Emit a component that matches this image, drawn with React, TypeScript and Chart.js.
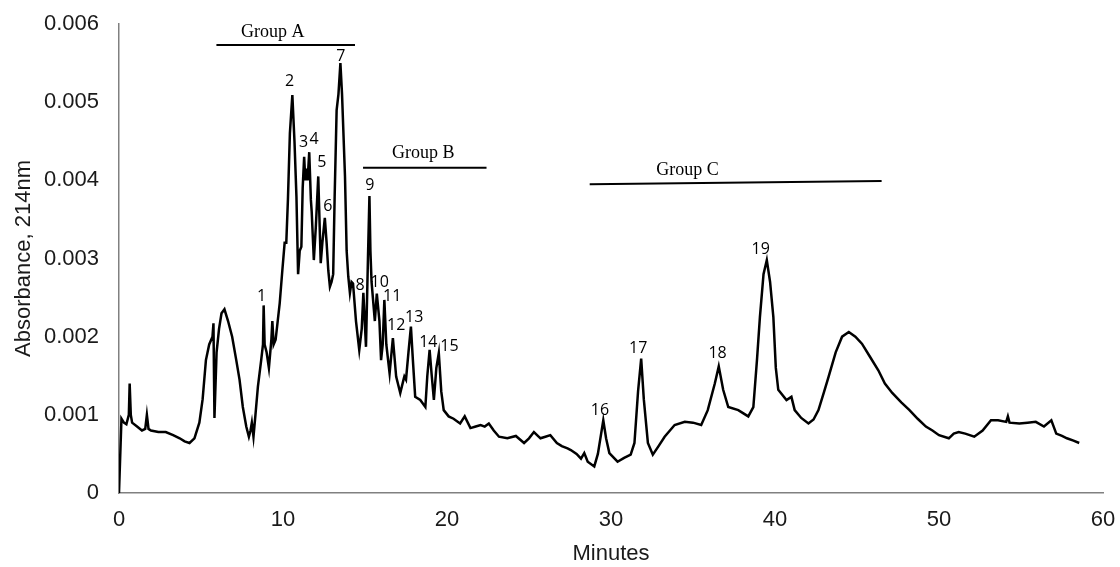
import React, { useEffect, useRef } from "react";
import { Chart, registerables } from "chart.js";

Chart.register(...registerables);

// Retention time (minutes)
const times: number[] = [
  0.0, 0.15, 0.3, 0.45, 0.6, 0.65, 0.72, 0.8, 1.1, 1.4, 1.6, 1.7, 1.8, 1.95, 2.4, 2.85, 3.3, 3.7, 4.0, 4.3,
  4.6, 4.9, 5.1, 5.3, 5.5, 5.7, 5.76, 5.82, 5.95, 6.1, 6.25, 6.43, 6.65, 6.9, 7.15, 7.35, 7.55, 7.76, 7.92, 8.02,
  8.1, 8.2, 8.32, 8.47, 8.67, 8.78, 8.82, 8.88, 9.0, 9.14, 9.29, 9.35, 9.43, 9.55, 9.8, 9.96, 10.1, 10.2, 10.3, 10.42,
  10.57, 10.7, 10.82, 10.92, 11.02, 11.12, 11.2, 11.29, 11.36, 11.43, 11.5, 11.6, 11.7, 11.75, 11.88, 12.0, 12.15, 12.3, 12.4, 12.55,
  12.66, 12.76, 12.86, 12.96, 13.06, 13.15, 13.27, 13.38, 13.5, 13.6, 13.78, 13.88, 13.98, 14.08, 14.18, 14.27, 14.45, 14.65, 14.8, 14.9,
  15.06, 15.18, 15.27, 15.33, 15.4, 15.6, 15.72, 15.88, 15.98, 16.08, 16.18, 16.3, 16.5, 16.7, 16.9, 17.15, 17.35, 17.4, 17.5, 17.65,
  17.8, 17.92, 18.06, 18.37, 18.68, 18.8, 18.94, 19.07, 19.2, 19.35, 19.5, 19.65, 19.8, 20.1, 20.4, 20.8, 21.08, 21.43, 21.75, 22.05,
  22.3, 22.55, 22.85, 23.17, 23.68, 24.2, 24.7, 25.0, 25.3, 25.7, 26.0, 26.3, 26.7, 27.0, 27.35, 27.55, 27.9, 28.17, 28.37, 28.58,
  28.98, 29.2, 29.53, 29.7, 29.9, 30.4, 30.8, 31.2, 31.43, 31.65, 31.84, 32.0, 32.25, 32.55, 32.9, 33.27, 33.88, 34.5, 35.0, 35.5,
  35.9, 36.33, 36.57, 36.84, 37.15, 37.76, 38.37, 38.68, 38.9, 39.08, 39.3, 39.5, 39.7, 39.9, 40.05, 40.2, 40.7, 41.0, 41.2, 41.6,
  42.04, 42.35, 42.65, 43.0, 43.27, 43.7, 44.09, 44.5, 44.9, 45.3, 45.8, 46.3, 46.7, 47.15, 47.7, 48.2, 48.7, 49.2, 49.6, 50.0,
  50.6, 50.9, 51.2, 51.6, 52.15, 52.66, 53.17, 53.6, 54.1, 54.2, 54.3, 54.9, 55.4, 55.9, 56.4, 56.85, 57.15, 57.5, 57.8, 58.2,
  58.55,
];

// Absorbance at 214 nm
const absorbance: number[] = [
  0, 0.00095, 0.0009, 0.00088, 0.001, 0.0014, 0.001, 0.0009, 0.00085, 0.0008, 0.00082, 0.001, 0.00082, 0.0008, 0.00078, 0.00078, 0.00074, 0.0007, 0.00066, 0.00064,
  0.0007, 0.0009, 0.0012, 0.0017, 0.0019, 0.002, 0.00217, 0.00096, 0.0018, 0.0021, 0.0023, 0.00235, 0.0022, 0.002, 0.0017, 0.00145, 0.0011, 0.00085, 0.00072, 0.0008,
  0.0009, 0.00072, 0.001, 0.00136, 0.0017, 0.0019, 0.0024, 0.0019, 0.0018, 0.0016, 0.00196, 0.0022, 0.0019, 0.00196, 0.00243, 0.00285, 0.0032, 0.0032, 0.00375, 0.0046,
  0.00509, 0.0045, 0.00379, 0.0028, 0.0031, 0.00315, 0.0039, 0.0043, 0.004, 0.00415, 0.004, 0.00436, 0.00375, 0.0036, 0.00298, 0.0034, 0.00405, 0.00294, 0.0032, 0.00352,
  0.0032, 0.00285, 0.00264, 0.0027, 0.0028, 0.0038, 0.0049, 0.0051, 0.0055, 0.0051, 0.00405, 0.0031, 0.00277, 0.00256, 0.0027, 0.00268, 0.0022, 0.00183, 0.0021, 0.00256,
  0.00187, 0.003, 0.0038, 0.0031, 0.0027, 0.0022, 0.00255, 0.0022, 0.0017, 0.0019, 0.00247, 0.0019, 0.00153, 0.00198, 0.00149, 0.00128, 0.00145, 0.00149, 0.00145, 0.0018,
  0.00213, 0.0017, 0.00123, 0.00119, 0.0011, 0.0015, 0.00183, 0.0015, 0.00119, 0.0016, 0.00179, 0.0013, 0.00106, 0.00098, 0.00095, 0.00089, 0.00098, 0.00083, 0.00085, 0.00087,
  0.00085, 0.00089, 0.0008, 0.00072, 0.0007, 0.00073, 0.00064, 0.0007, 0.00078, 0.0007, 0.00072, 0.00074, 0.00064, 0.0006, 0.00057, 0.00055, 0.0005, 0.00044, 0.00051, 0.0004,
  0.00034, 0.0005, 0.00093, 0.0007, 0.00051, 0.0004, 0.00045, 0.00049, 0.00064, 0.0013, 0.00172, 0.0012, 0.00064, 0.00049, 0.0006, 0.00072, 0.00087, 0.00091, 0.0009, 0.00087,
  0.00106, 0.0014, 0.00162, 0.00132, 0.0011, 0.00106, 0.00098, 0.0011, 0.0017, 0.00225, 0.0028, 0.00298, 0.0027, 0.00225, 0.0016, 0.00132, 0.00119, 0.00123, 0.00106, 0.00096,
  0.00089, 0.00094, 0.00106, 0.0013, 0.00149, 0.0018, 0.002, 0.00206, 0.002, 0.00191, 0.00174, 0.00157, 0.0014, 0.00128, 0.00116, 0.00106, 0.00095, 0.00085, 0.0008, 0.00074,
  0.0007, 0.00076, 0.00078, 0.00076, 0.00072, 0.0008, 0.00093, 0.00093, 0.00091, 0.00098, 0.0009, 0.00089, 0.0009, 0.00091, 0.00085, 0.00093, 0.00076, 0.00073, 0.0007, 0.00067,
  0.00064,
];

// Peak numbers and their label anchor (minutes, absorbance)
const peakLabels: string[] = ["1", "2", "3", "4", "5", "6", "7", "8", "9", "10", "11", "12", "13", "14", "15", "16", "17", "18", "19"];
const peakLabelX: number[] = [8.7, 10.4, 11.26, 11.9, 12.37, 12.74, 13.53, 14.7, 15.3, 15.9, 16.66, 16.9, 18.0, 18.86, 20.15, 29.33, 31.66, 36.5, 39.13];
const peakLabelY: number[] = [0.00251, 0.00526, 0.00448, 0.00452, 0.00423, 0.00367, 0.00558, 0.00266, 0.00394, 0.0027, 0.00252, 0.00214, 0.00224, 0.00193, 0.00187, 0.00106, 0.00185, 0.00178, 0.00311];

// Peak groups: name, start/end minutes, bar level, label position
const groupNames: string[] = ["Group A", "Group B", "Group C"];
const groupStart: number[] = [5.94, 14.88, 28.7];
const groupEnd: number[] = [14.39, 22.41, 46.5];
const groupLevelStart: number[] = [0.00573, 0.00416, 0.00395];
const groupLevelEnd: number[] = [0.00573, 0.00416, 0.00399];
const groupLabelX: number[] = [9.37, 18.55, 34.66];
const groupLabelY: number[] = [0.0059, 0.00435, 0.00413];

const xTicks: number[] = [0, 10, 20, 30, 40, 50, 60];
const yTicks: number[] = [0, 0.001, 0.002, 0.003, 0.004, 0.005, 0.006];

const annotationPlugin = {
  id: "peakAnnotations",
  afterDatasetsDraw(chart: any) {
    const ctx = chart.ctx;
    const xs = chart.scales.x;
    const ys = chart.scales.y;
    ctx.save();
    ctx.strokeStyle = "#000";
    ctx.lineWidth = 2;
    for (let i = 0; i < groupNames.length; i++) {
      ctx.beginPath();
      ctx.moveTo(xs.getPixelForValue(groupStart[i]), ys.getPixelForValue(groupLevelStart[i]));
      ctx.lineTo(xs.getPixelForValue(groupEnd[i]), ys.getPixelForValue(groupLevelEnd[i]));
      ctx.stroke();
    }
    ctx.fillStyle = "#000";
    ctx.textAlign = "center";
    ctx.textBaseline = "middle";
    ctx.font = '18px "Liberation Serif", "Times New Roman", serif';
    for (let i = 0; i < groupNames.length; i++) {
      ctx.fillText(groupNames[i], xs.getPixelForValue(groupLabelX[i]), ys.getPixelForValue(groupLabelY[i]));
    }
    ctx.font = '16px "Open Sans", "Noto Sans", sans-serif';
    for (let i = 0; i < peakLabels.length; i++) {
      ctx.fillText(peakLabels[i], xs.getPixelForValue(peakLabelX[i]), ys.getPixelForValue(peakLabelY[i]));
    }
    ctx.restore();
  },
};

export default function App() {
  const canvasRef = useRef<HTMLCanvasElement | null>(null);

  useEffect(() => {
    if (!canvasRef.current) return;
    const points = times.map((t, i) => ({ x: t, y: absorbance[i] }));
    const chart = new Chart(canvasRef.current, {
      type: "line",
      data: {
        datasets: [
          {
            data: points,
            borderColor: "#000",
            borderWidth: 2.5,
            pointRadius: 0,
            tension: 0,
            fill: false,
          },
        ],
      },
      options: {
        animation: false,
        responsive: true,
        maintainAspectRatio: false,
        layout: { padding: { left: 0, right: 17, top: 24, bottom: 0 } },
        plugins: { legend: { display: false }, tooltip: { enabled: false } },
        scales: {
          x: {
            type: "linear",
            min: 0,
            max: 60,
            afterFit: (scale: any) => {
              scale.height = 74;
              scale.paddingLeft = 0;
              scale.paddingRight = 0;
            },
            afterBuildTicks: (scale: any) => {
              scale.ticks = xTicks.map((v) => ({ value: v }));
            },
            grid: { display: false, drawTicks: false },
            border: { display: true, color: "#808080", width: 1.5 },
            ticks: {
              color: "#1a1a1a",
              padding: 14,
              maxRotation: 0,
              font: { family: '"Liberation Sans", Arial, sans-serif', size: 22 },
            },
            title: {
              display: true,
              text: "Minutes",
              color: "#1a1a1a",
              padding: { top: 0, bottom: 0 },
              font: { family: '"Liberation Sans", Arial, sans-serif', size: 22, lineHeight: 1.2 },
            },
          },
          y: {
            type: "linear",
            min: 0,
            max: 0.006,
            afterFit: (scale: any) => {
              scale.width = 119;
              scale.paddingTop = 0;
              scale.paddingBottom = 0;
            },
            afterBuildTicks: (scale: any) => {
              scale.ticks = yTicks.map((v) => ({ value: v }));
            },
            grid: { display: false, drawTicks: false },
            border: { display: true, color: "#808080", width: 1.5 },
            ticks: {
              color: "#1a1a1a",
              padding: 20,
              font: { family: '"Liberation Sans", Arial, sans-serif', size: 22 },
              callback: (v: any) => (Number(v) === 0 ? "0" : Number(v).toFixed(3)),
            },
            title: {
              display: true,
              text: "Absorbance, 214nm",
              color: "#1a1a1a",
              padding: { top: 11, bottom: 0 },
              font: { family: '"Liberation Sans", Arial, sans-serif', size: 22, lineHeight: 1.2 },
            },
          },
        },
      },
      plugins: [annotationPlugin],
    });
    return () => chart.destroy();
  }, []);

  return (
    <div style={{ position: "fixed", left: 0, top: 0, width: 1120, height: 567, background: "#fff" }}>
      <canvas ref={canvasRef} />
    </div>
  );
}
